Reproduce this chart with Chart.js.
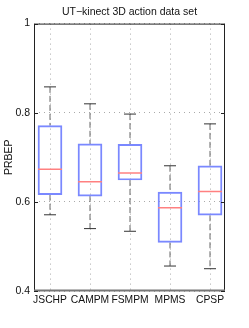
<!DOCTYPE html>
<html>
<head>
<meta charset="utf-8">
<script src="https://cdn.jsdelivr.net/npm/chart.js@4.4.1/dist/chart.umd.min.js"></script>
<style>
  html, body { margin: 0; padding: 0; background: #fff; }
  #wrap { width: 249px; height: 328px; }
</style>
</head>
<body>
<div id="wrap"><canvas id="chartBox"></canvas></div>
<script>
// catégories et statistiques des boîtes
const categories = ['JSCHP', 'CAMPM', 'FSMPM', 'MPMS', 'CPSP'];
const whiskerHigh = [0.858, 0.820, 0.797, 0.681, 0.775];
const boxTop      = [0.771, 0.730, 0.729, 0.622, 0.681];
const medians     = [0.673, 0.645, 0.665, 0.587, 0.623];
const boxBottom   = [0.616, 0.613, 0.649, 0.509, 0.570];
const whiskerLow  = [0.571, 0.540, 0.534, 0.456, 0.450];
const yTicks = [0.4, 0.6, 0.8, 1];

const xs = categories.map((c, i) => i + 1);

// segments des moustaches (séparés par null)
const whiskerPts = [];
xs.forEach((x, i) => {
    whiskerPts.push({x: x, y: whiskerHigh[i]}, {x: x, y: boxTop[i]}, {x: x, y: null});
    whiskerPts.push({x: x, y: boxBottom[i]}, {x: x, y: whiskerLow[i]}, {x: x, y: null});
});
const capPts = [];
xs.forEach((x, i) => {
    capPts.push({x: x, y: whiskerHigh[i]}, {x: x, y: whiskerLow[i]});
});

// cadre + petites graduations intérieures façon matlab
const framePlugin = {
    id: 'frame',
    afterDatasetsDraw(chart) {
        const {ctx, chartArea: a, scales} = chart;
        ctx.save();
        ctx.strokeStyle = '#222';
        ctx.lineWidth = 1;
        ctx.beginPath();
        ctx.moveTo(a.left + 0.5, a.bottom);
        ctx.lineTo(a.left + 0.5, a.top + 0.5);
        ctx.lineTo(a.right - 0.5, a.top + 0.5);
        ctx.lineTo(a.right - 0.5, a.bottom);
        ctx.stroke();
        ctx.strokeStyle = '#777';
        ctx.lineWidth = 2;
        ctx.beginPath();
        ctx.moveTo(a.left, a.bottom - 0.5);
        ctx.lineTo(a.right, a.bottom - 0.5);
        ctx.stroke();
        ctx.strokeStyle = '#222';
        ctx.lineWidth = 1;
        ctx.beginPath();
        yTicks.forEach(v => {
            const y = Math.round(scales.y.getPixelForValue(v)) + 0.5;
            ctx.moveTo(a.left, y); ctx.lineTo(a.left + 4, y);
            ctx.moveTo(a.right, y); ctx.lineTo(a.right - 4, y);
        });
        ctx.stroke();
        ctx.restore();
    }
};

new Chart(document.getElementById('chartBox'), {
    data: {
        datasets: [
            {
                type: 'bar',
                data: xs.map((x, i) => ({x: x, y: [boxBottom[i], boxTop[i]]})),
                backgroundColor: 'rgba(0,0,0,0)',
                borderColor: '#7a88ff',
                borderWidth: 1.3,
                borderSkipped: false,
                barThickness: 24,
                order: 2
            },
            {
                type: 'line',
                data: medians.map((m, i) => ({x: xs[i], y: m})),
                showLine: false,
                pointStyle: 'line',
                pointRadius: 12,
                pointBorderColor: '#ff8080',
                pointBorderWidth: 1.5,
                order: 1
            },
            {
                type: 'line',
                data: whiskerPts,
                borderColor: '#666',
                borderWidth: 1,
                borderDash: [6, 3],
                pointRadius: 0,
                spanGaps: false,
                order: 3
            },
            {
                type: 'line',
                data: capPts,
                showLine: false,
                pointStyle: 'line',
                pointRadius: 6,
                pointBorderColor: '#333',
                pointBorderWidth: 1,
                order: 1
            }
        ]
    },
    options: {
        responsive: true,
        maintainAspectRatio: false,
        animation: false,
        layout: { padding: { top: 1, right: 24, bottom: 17, left: 0 } },
        plugins: {
            legend: { display: false },
            tooltip: { enabled: false },
            title: {
                display: true,
                fullSize: false,
                text: 'UT\u2212kinect 3D action data set',
                color: '#111',
                font: { family: 'Liberation Sans', size: 10.5, weight: 'normal' },
                padding: { top: 5, bottom: 5 }
            }
        },
        scales: {
            x: {
                type: 'linear',
                offset: false,
                min: 0.6,
                max: 5.375,
                afterBuildTicks: s => { s.ticks = xs.map(v => ({value: v})); },
                afterFit: s => { s.height = 20; },
                ticks: {
                    autoSkip: false,
                    maxRotation: 0,
                    padding: 3,
                    color: '#111',
                    font: { family: 'Liberation Sans', size: 10.3 },
                    callback: v => categories[v - 1]
                },
                grid: { color: '#aaa', lineWidth: 1, drawTicks: false, offset: false },
                border: { display: false, dash: [1, 4] }
            },
            y: {
                min: 0.4,
                max: 1,
                afterBuildTicks: s => { s.ticks = yTicks.map(v => ({value: v})); },
                afterFit: s => { s.width = 34; },
                ticks: {
                    padding: 4,
                    color: '#111',
                    font: { family: 'Liberation Sans', size: 10.5 },
                    callback: v => String(v)
                },
                grid: { color: '#aaa', lineWidth: 1, drawTicks: false },
                border: { display: false, dash: [1, 4] },
                title: {
                    display: true,
                    text: 'PRBEP',
                    color: '#111',
                    font: { family: 'Liberation Sans', size: 10.5 },
                    padding: { top: 3, bottom: 0 }
                }
            }
        }
    },
    plugins: [framePlugin]
});
</script>
</body>
</html>
